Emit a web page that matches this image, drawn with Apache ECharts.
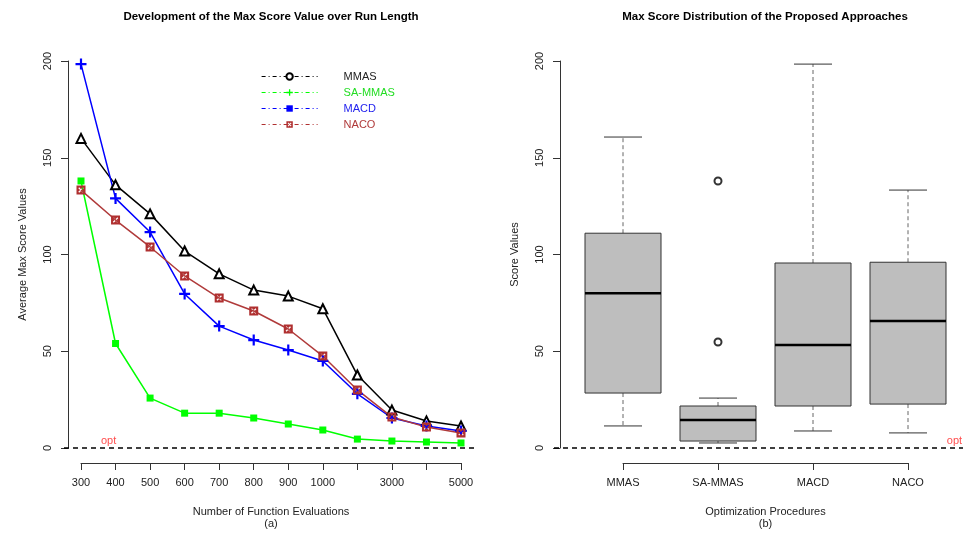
<!DOCTYPE html>
<html>
<head>
<meta charset="utf-8">
<script src="https://cdn.jsdelivr.net/npm/echarts@6/dist/echarts.min.js"></script>
<style>html,body{margin:0;padding:0;background:#fff}#c{width:967px;height:535px}</style>
</head>
<body>
<div id="c"></div>
<script>
// ---- data ----
const evalCategories = ['300','400','500','600','700','800','900','1000','2000','3000','4000','5000'];
const evalTickLabels = ['300','400','500','600','700','800','900','1000','','3000','','5000'];
const mmas   = [160, 136, 121, 101.8, 90, 81.6, 78.5, 72, 37.7, 19.6, 14, 11.4];
const saMmas = [138, 54, 25.8, 18, 18, 15.5, 12.4, 9.3, 4.6, 3.6, 3.1, 2.6];
const macd   = [198.4, 129, 111.6, 79.6, 63, 55.8, 50.6, 45, 28, 15.5, 11.4, 8.8];
const naco   = [133.3, 117.8, 103.9, 88.9, 77.5, 70.8, 61.5, 47.5, 30, 16, 10.8, 7.8];

const procedures = ['MMAS','SA-MMAS','MACD','NACO'];
const boxMin    = [11.4, 2.6, 8.8, 7.8];
const boxQ1     = [28.4, 3.6, 21.7, 22.7];
const boxMedian = [80, 14.5, 53.2, 65.6];
const boxQ3     = [111, 21.7, 95.6, 96];
const boxMax    = [160.7, 25.8, 198.4, 133.3];
const outliers  = [[1, 138], [1, 54.8]];

const yTicks = [0, 50, 100, 150, 200];
const optimum = 0;

// ---- chart ----
const FONT = 'Liberation Sans, Arial, Helvetica, sans-serif';
const chart = echarts.init(document.getElementById('c'), null, {renderer: 'canvas'});
const idx = evalCategories.map((_, i) => i);
const toPts = arr => arr.map((v, i) => [idx[i], v]);
const plusPath = 'path://M4,0h2v4h4v2h-4v4h-2v-4h-4v-2h4z';
// square with an X cut out (reverse winding makes the hole)
const boxTimesPath = 'path://M0,0H10V10H0Z M4,5L2,7L3,8L5,6L7,8L8,7L6,5L8,3L7,2L5,4L3,2L2,3Z';

// R-style plot regions extend 4% beyond the data range on each side
const leftExt = [-0.48, evalCategories.length - 1 + 0.46];
const rightExt = [-0.72, procedures.length - 1 + 0.58];

const axisLineStyle = {color: '#333', width: 1};
const commonY = {
  type: 'value', min: yTicks[0], max: yTicks[yTicks.length - 1], interval: 50,
  splitLine: {show: false},
  axisLine: {show: true, onZero: false, lineStyle: axisLineStyle},
  axisTick: {show: true, length: 7, lineStyle: axisLineStyle},
  axisLabel: {rotate: 90, margin: 15, color: '#222', fontSize: 11, fontFamily: FONT},
  nameLocation: 'middle', nameGap: 40, nameRotate: 90,
  nameTextStyle: {color: '#222', fontSize: 11, fontFamily: FONT}
};
const hiddenY = gi => ({type: 'value', gridIndex: gi, min: yTicks[0], max: yTicks[yTicks.length - 1], show: false});

const boxData = procedures.map((p, i) => [i, boxMin[i], boxQ1[i], boxMedian[i], boxQ3[i], boxMax[i]]);

function renderBox(params, api) {
  const i = api.value(0);
  const pMin = api.coord([i, api.value(1)]);
  const pQ1 = api.coord([i, api.value(2)]);
  const pMed = api.coord([i, api.value(3)]);
  const pQ3 = api.coord([i, api.value(4)]);
  const pMax = api.coord([i, api.value(5)]);
  const x = pMed[0];
  const half = 38, cap = 19;
  const dashStyle = {stroke: '#666', lineWidth: 1, lineDash: [4, 3]};
  const solid = {stroke: '#333', lineWidth: 1};
  return {
    type: 'group',
    children: [
      {type: 'line', shape: {x1: x, y1: pQ3[1], x2: x, y2: pMax[1]}, style: dashStyle},
      {type: 'line', shape: {x1: x, y1: pQ1[1], x2: x, y2: pMin[1]}, style: dashStyle},
      {type: 'line', shape: {x1: x - cap, y1: pMax[1], x2: x + cap, y2: pMax[1]}, style: solid},
      {type: 'line', shape: {x1: x - cap, y1: pMin[1], x2: x + cap, y2: pMin[1]}, style: solid},
      {type: 'rect', shape: {x: x - half, y: pQ3[1], width: half * 2, height: pQ1[1] - pQ3[1]},
        style: {fill: '#bebebe', stroke: '#333', lineWidth: 1}},
      {type: 'line', shape: {x1: x - half, y1: pMed[1], x2: x + half, y2: pMed[1]},
        style: {stroke: '#000', lineWidth: 2.5}}
    ]
  };
}

// legend-only series (R legend uses different symbols than the plot)
const legendSeries = [
  {name: 'MMAS', symbol: 'emptyCircle', color: '#000'},
  {name: 'SA-MMAS', symbol: plusPath, color: '#00ff00'},
  {name: 'MACD', symbol: 'rect', color: '#0000ff'},
  {name: 'NACO', symbol: boxTimesPath, color: '#b03030'}
].map(s => ({
  name: s.name, type: 'line', xAxisIndex: 0, yAxisIndex: 0, data: [],
  symbol: s.symbol, color: s.color,
  lineStyle: {color: s.color, width: 1}, itemStyle: {color: s.color, borderColor: s.color}
}));

const option = {
  backgroundColor: '#fff',
  animation: false,
  textStyle: {fontFamily: FONT},
  title: [
    {text: 'Development of the Max Score Value over Run Length', left: 271, top: 11, padding: 0,
      textAlign: 'center', textStyle: {fontSize: 11.5, fontWeight: 'bold', color: '#000', fontFamily: FONT}},
    {text: 'Max Score Distribution of the Proposed Approaches', left: 765, top: 11, padding: 0,
      textAlign: 'center', textStyle: {fontSize: 11.5, fontWeight: 'bold', color: '#000', fontFamily: FONT}}
  ],
  legend: {
    orient: 'vertical', left: 261, top: 71, padding: 0, itemWidth: 56, itemHeight: 8, itemGap: 5,
    lineStyle: {type: [4, 3, 1, 3], width: 1.2},
    textStyle: {fontSize: 11, fontFamily: FONT, padding: [0, 0, 0, 21]},
    data: [
      {name: 'MMAS', textStyle: {color: '#222'}},
      {name: 'SA-MMAS', textStyle: {color: '#22dd22'}},
      {name: 'MACD', textStyle: {color: '#2222ee'}},
      {name: 'NACO', textStyle: {color: '#b03a3a'}}
    ]
  },
  grid: [
    {left: 81, right: 506, top: 61, bottom: 87},
    {left: 623, right: 59, top: 61, bottom: 87},
    {left: 64, right: 490, top: 61, bottom: 87},
    {left: 554, right: 4, top: 61, bottom: 87}
  ],
  xAxis: [
    {
      type: 'value', gridIndex: 0, min: 0, max: evalCategories.length - 1, interval: 1,
      offset: 15, position: 'bottom',
      splitLine: {show: false},
      axisLine: {show: true, onZero: false, lineStyle: axisLineStyle},
      axisTick: {show: true, length: 7, lineStyle: axisLineStyle},
      axisLabel: {margin: 14, color: '#222', fontSize: 11, fontFamily: FONT,
        formatter: v => evalTickLabels[Math.round(v)] || ''},
      name: 'Number of Function Evaluations\n(a)', nameLocation: 'middle', nameGap: 43,
      nameTextStyle: {color: '#222', fontSize: 11, fontFamily: FONT, lineHeight: 12}
    },
    {
      type: 'category', gridIndex: 1, data: procedures, boundaryGap: false, offset: 15,
      axisLine: {show: true, onZero: false, lineStyle: axisLineStyle},
      axisTick: {show: true, length: 7, interval: 0, lineStyle: axisLineStyle},
      axisLabel: {margin: 14, interval: 0, color: '#222', fontSize: 11, fontFamily: FONT},
      name: 'Optimization Procedures\n(b)', nameLocation: 'middle', nameGap: 43,
      nameTextStyle: {color: '#222', fontSize: 11, fontFamily: FONT, lineHeight: 12}
    },
    {type: 'value', gridIndex: 2, min: leftExt[0], max: leftExt[1], show: false},
    {type: 'value', gridIndex: 3, min: rightExt[0], max: rightExt[1], show: false}
  ],
  yAxis: [
    Object.assign({}, commonY, {gridIndex: 0, offset: 13, name: 'Average Max Score Values'}),
    Object.assign({}, commonY, {gridIndex: 1, offset: 63, name: 'Score Values'}),
    hiddenY(2),
    hiddenY(3)
  ],
  series: legendSeries.concat([
    {
      name: 'zeroLeft', type: 'line', xAxisIndex: 2, yAxisIndex: 2, clip: false, silent: true,
      symbol: 'none', data: [[leftExt[0], optimum], [leftExt[1], optimum]],
      lineStyle: {color: '#000', width: 1.5, type: [5, 4]}
    },
    {
      name: 'optLeft', type: 'scatter', xAxisIndex: 0, yAxisIndex: 0, clip: false, silent: true,
      symbolSize: 0, data: [[0.8, optimum]],
      label: {show: true, formatter: 'opt', position: 'top', distance: 2, color: '#ff2020', fontSize: 11, fontFamily: FONT}
    },
    {
      name: 'MMAS', type: 'line', xAxisIndex: 0, yAxisIndex: 0, data: toPts(mmas), clip: false,
      symbol: 'emptyTriangle', symbolSize: 9, color: '#000',
      lineStyle: {color: '#000', width: 1.5},
      itemStyle: {color: '#000', borderColor: '#000', borderWidth: 1.5}
    },
    {
      name: 'SA-MMAS', type: 'line', xAxisIndex: 0, yAxisIndex: 0, data: toPts(saMmas), clip: false,
      symbol: 'rect', symbolSize: 7, color: '#00ff00',
      lineStyle: {color: '#00ff00', width: 1.5},
      itemStyle: {color: '#00ff00'}
    },
    {
      name: 'MACD', type: 'line', xAxisIndex: 0, yAxisIndex: 0, data: toPts(macd), clip: false,
      symbol: plusPath, symbolSize: 11, color: '#0000ff',
      lineStyle: {color: '#0000ff', width: 1.5},
      itemStyle: {color: '#0000ff'}
    },
    {
      name: 'NACO', type: 'line', xAxisIndex: 0, yAxisIndex: 0, data: toPts(naco), clip: false,
      symbol: boxTimesPath, symbolSize: 9, color: '#b03030',
      lineStyle: {color: '#b03a3a', width: 1.5},
      itemStyle: {color: '#b03030'}
    },
    {
      name: 'zeroRight', type: 'line', xAxisIndex: 3, yAxisIndex: 3, clip: false, silent: true,
      symbol: 'none', data: [[rightExt[0], optimum], [rightExt[1], optimum]],
      lineStyle: {color: '#000', width: 1.5, type: [5, 4]}
    },
    {
      name: 'optRight', type: 'scatter', xAxisIndex: 3, yAxisIndex: 3, clip: false, silent: true,
      symbolSize: 0, data: [[3.49, optimum]],
      label: {show: true, formatter: 'opt', position: 'top', distance: 2, color: '#ff2020', fontSize: 11, fontFamily: FONT}
    },
    {
      name: 'boxes', type: 'custom', xAxisIndex: 1, yAxisIndex: 1, clip: false,
      renderItem: renderBox, data: boxData,
      encode: {x: 0, y: [1, 2, 3, 4, 5]}
    },
    {
      name: 'outliers', type: 'scatter', xAxisIndex: 1, yAxisIndex: 1, data: outliers,
      symbol: 'emptyCircle', symbolSize: 7,
      itemStyle: {color: '#000', borderColor: '#000', borderWidth: 1}
    }
  ])
};
chart.setOption(option);
</script>
</body>
</html>
